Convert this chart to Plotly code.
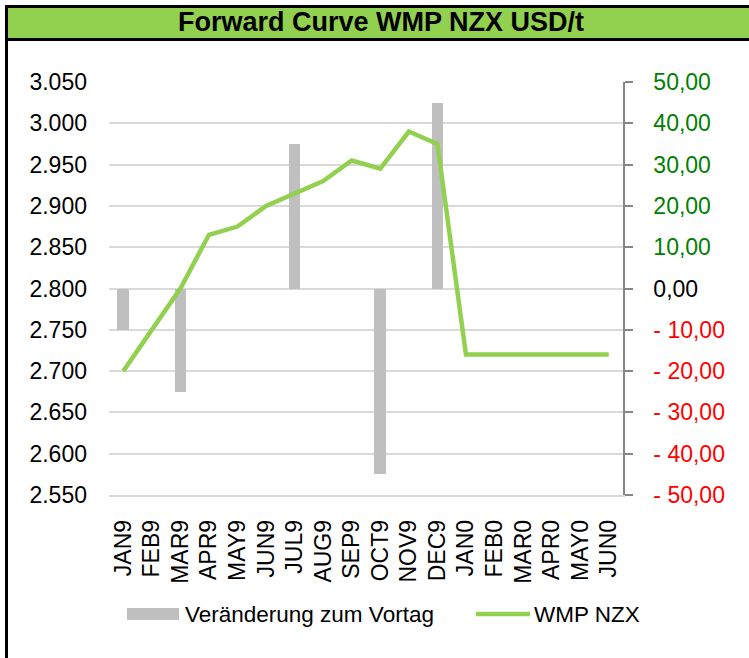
import plotly.graph_objects as go

months = ["JAN9", "FEB9", "MAR9", "APR9", "MAY9", "JUN9", "JUL9", "AUG9", "SEP9",
          "OCT9", "NOV9", "DEC9", "JAN0", "FEB0", "MAR0", "APR0", "MAY0", "JUN0"]
change_vs_prev_day = [-10, 0, -25, 0, 0, 0, 35, 0, 0, -45, 0, 45, 0, 0, 0, 0, 0, 0]
wmp_nzx = [2700, 2750, 2800, 2865, 2875, 2900, 2915, 2930, 2955, 2945, 2990, 2975,
           2720, 2720, 2720, 2720, 2720, 2720]
left_ticks = list(range(2550, 3051, 50))
right_ticks = list(range(-50, 51, 10))

W, H = 749, 658
L, R, T, B = 109, 126, 82, 163
PW, PH = W - L - R, H - T - B

def px(x):
    return (x - L) / PW

def py(y):
    return (H - B - y) / PH

def rlabel(v):
    s = f"{abs(v):.2f}".replace(".", ",")
    if v > 0:
        return f'<span style="color:#008000">{s}</span>'
    if v < 0:
        return f'<span style="color:#FF0000">- {s}</span>'
    return s

GREEN = "#92D050"
GRAY = "#BFBFBF"
FONT = "Liberation Sans, Arial, sans-serif"

fig = go.Figure()
fig.add_trace(go.Bar(x=months, y=change_vs_prev_day, yaxis="y", width=0.41,
                     marker=dict(color=GRAY, line=dict(width=0)),
                     name="Veränderung zum Vortag", showlegend=False))
fig.add_trace(go.Scatter(x=months, y=wmp_nzx, yaxis="y2", mode="lines",
                         line=dict(color=GREEN, width=4.5),
                         name="WMP NZX", showlegend=False))

shapes = [
    dict(type="rect", xref="paper", yref="paper", x0=px(8), x1=px(749), y0=py(8), y1=py(38),
         fillcolor=GREEN, line=dict(width=0), layer="below"),
    dict(type="line", xref="paper", yref="paper", x0=px(5), x1=px(749), y0=py(6.5), y1=py(6.5),
         line=dict(color="black", width=3)),
    dict(type="line", xref="paper", yref="paper", x0=px(5), x1=px(749), y0=py(39.5), y1=py(39.5),
         line=dict(color="black", width=3)),
    dict(type="line", xref="paper", yref="paper", x0=px(6.5), x1=px(6.5), y0=py(5), y1=py(658),
         line=dict(color="black", width=3)),
    # legend symbols
    dict(type="rect", xref="paper", yref="paper", x0=px(127), x1=px(179), y0=py(608), y1=py(620),
         fillcolor=GRAY, line=dict(width=0)),
    dict(type="line", xref="paper", yref="paper", x0=px(476), x1=px(530), y0=py(614), y1=py(614),
         line=dict(color=GREEN, width=4.5)),
]

annotations = [
    dict(text="<b>Forward Curve WMP NZX USD/t</b>", xref="paper", yref="paper",
         x=px(381), y=py(22.5), xanchor="center", yanchor="middle", showarrow=False,
         font=dict(family=FONT, size=27, color="black")),
    dict(text="Veränderung zum Vortag", xref="paper", yref="paper",
         x=px(183), y=py(614), xanchor="left", yanchor="middle", showarrow=False,
         font=dict(family=FONT, size=22.5, color="black")),
    dict(text="WMP NZX", xref="paper", yref="paper",
         x=px(532), y=py(614), xanchor="left", yanchor="middle", showarrow=False,
         font=dict(family=FONT, size=22.5, color="black")),
]

fig.update_layout(
    width=W, height=H,
    margin=dict(l=L, r=R, t=T, b=B, pad=0),
    paper_bgcolor="white", plot_bgcolor="white",
    separators=",.",
    showlegend=False,
    font=dict(family=FONT, color="black"),
    bargap=0,
    shapes=shapes,
    annotations=annotations,
    xaxis=dict(type="category", categoryorder="array", categoryarray=months,
               tickangle=-90, tickfont=dict(size=23, color="black"),
               showline=True, linecolor="#D9D9D9", linewidth=1.5,
               ticks="", showgrid=False, ticklabelstandoff=14, fixedrange=True),
    yaxis=dict(range=[-50, 50], side="right", tickvals=right_ticks,
               ticktext=[rlabel(v) for v in right_ticks],
               tickfont=dict(size=23, color="black"),
               showline=True, linecolor="#868686", linewidth=1.5,
               ticks="outside", ticklen=8, tickcolor="#868686", tickwidth=1.5,
               showgrid=True, gridcolor="#D9D9D9", gridwidth=1.5,
               zeroline=False, ticklabelstandoff=16),
    yaxis2=dict(range=[2550, 3050], side="left", overlaying="y", tickvals=left_ticks,
                tickformat=",.0f", tickfont=dict(size=23, color="black"),
                showline=False, ticks="", showgrid=False, zeroline=False,
                ticklabelstandoff=21),
)

fig.write_html("out.html", config={"displayModeBar": False},
               post_script="document.body.style.margin='0';")
